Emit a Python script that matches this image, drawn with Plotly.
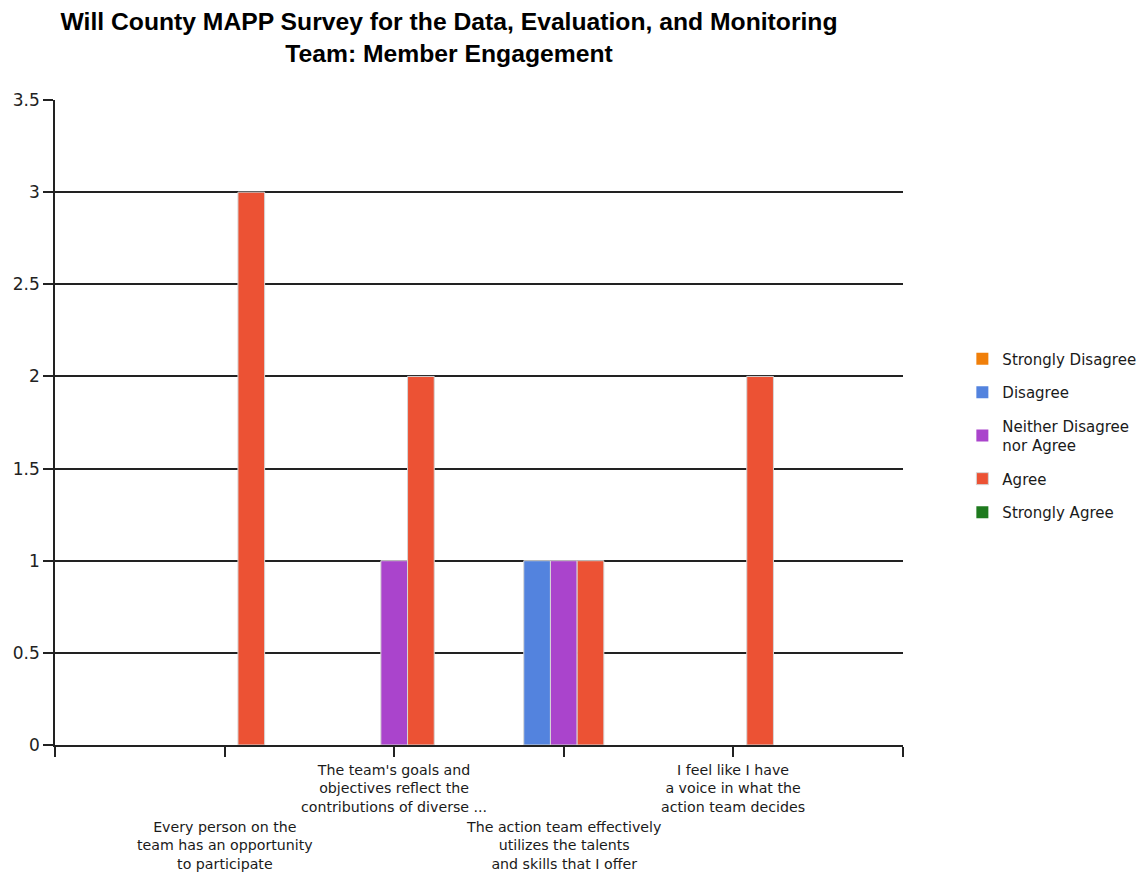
import plotly.graph_objects as go

# Survey questions (category positions 1..4 on a 0..5 axis)
categories = [
    "Every person on the<br>team has an opportunity<br>to participate",
    "The team's goals and<br>objectives reflect the<br>contributions of diverse ...",
    "The action team effectively<br>utilizes the talents<br>and skills that I offer",
    "I feel like I have<br>a voice in what the<br>action team decides",
]
positions = [1, 2, 3, 4]

# Response counts per answer option
strongly_disagree = [0, 0, 0, 0]
disagree = [0, 0, 1, 0]
neither = [0, 1, 1, 0]
agree = [3, 2, 1, 2]
strongly_agree = [0, 0, 0, 0]

series = [
    ("Strongly Disagree", strongly_disagree, "#F07F0A"),
    ("Disagree", disagree, "#5383DE"),
    ("Neither Disagree<br>nor Agree", neither, "#AA44CC"),
    ("Agree", agree, "#EC5234"),
    ("Strongly Agree", strongly_agree, "#1E7A1E"),
]

fig = go.Figure()
for i, (name, vals, color) in enumerate(series):
    fig.add_trace(go.Bar(
        x=positions, y=vals, name=name,
        legendgroup=f"g{i}",
        marker=dict(
            color=color,
            # no outline on empty bars so nothing shows along the baseline
            line=dict(color="#D6D6D6", width=[1 if v else 0 for v in vals]),
        ),
    ))

# Staggered category labels under the axis
label_y = [-0.112, -0.023, -0.112, -0.023]
annotations = []
for pos, text, ly in zip(positions, categories, label_y):
    annotations.append(dict(
        x=pos, y=ly, xref="x", yref="paper", text=text, showarrow=False,
        xanchor="center", yanchor="top", align="center",
        font=dict(family="DejaVu Sans", size=14.2, color="#1a1a1a"),
    ))

fig.update_layout(
    width=1146, height=873,
    paper_bgcolor="white", plot_bgcolor="white",
    margin=dict(l=55, r=243, t=100, b=128, autoexpand=False),
    barmode="group", bargap=0.213, bargroupgap=0,
    title=dict(
        text="Will County MAPP Survey for the Data, Evaluation, and Monitoring<br>Team: Member Engagement",
        x=449 / 1146, xanchor="center", xref="container",
        y=1 - 30 / 873, yanchor="middle", yref="container",
        font=dict(family="Liberation Sans", size=24.7, color="black", weight="bold"),
    ),
    legend=dict(
        x=1.07, xanchor="left", y=0.48, yanchor="middle",
        font=dict(family="DejaVu Sans", size=15, color="#1a1a1a"),
        tracegroupgap=11, itemwidth=30,
    ),
    annotations=annotations,
    xaxis=dict(
        range=[0, 5], tickvals=[0, 1, 2, 3, 4, 5], showticklabels=False,
        ticks="outside", ticklen=10, tickcolor="#222", tickwidth=1.5,
        showline=True, linecolor="#222", linewidth=1.5,
        showgrid=False, zeroline=False,
    ),
    yaxis=dict(
        range=[0, 3.5], tickvals=[0, 0.5, 1, 1.5, 2, 2.5, 3, 3.5],
        ticktext=["0", "0.5", "1", "1.5", "2", "2.5", "3", "3.5"],
        ticks="outside", ticklen=10, tickcolor="#222", tickwidth=1.5,
        showline=True, linecolor="#222", linewidth=1.5,
        showgrid=True, gridcolor="#222", gridwidth=1.5,
        zeroline=False,
        tickfont=dict(family="DejaVu Sans", size=17, color="#222"),
    ),
)

fig.write_html("out.html")
